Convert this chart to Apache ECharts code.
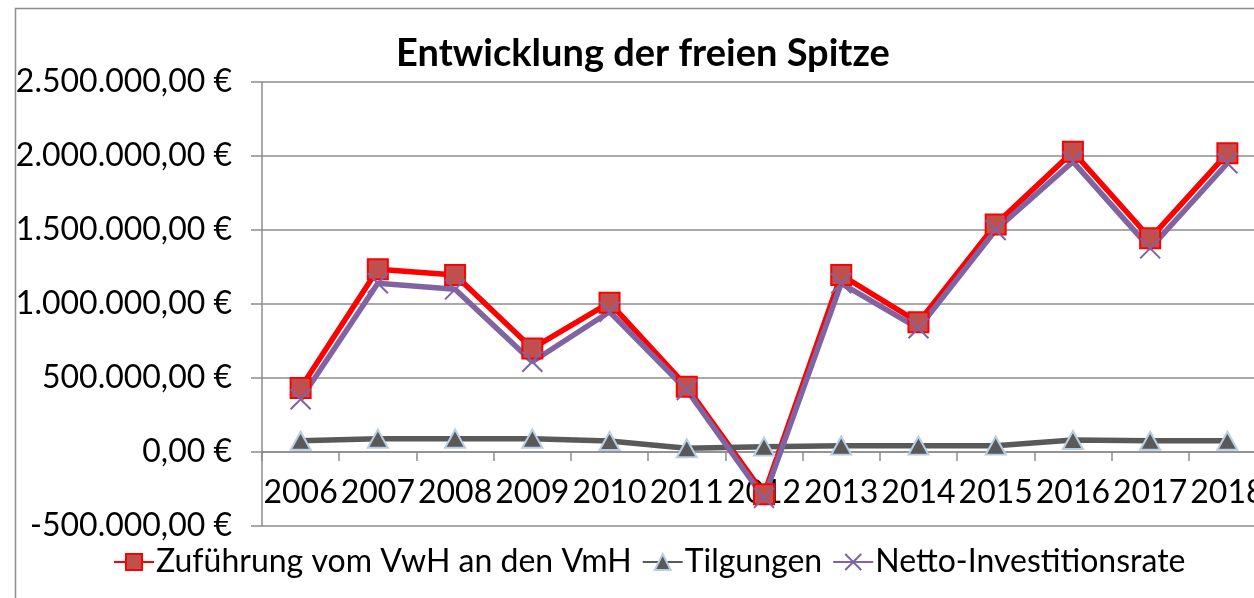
<!DOCTYPE html>
<html>
<head>
<meta charset="utf-8">
<script src="https://cdn.jsdelivr.net/npm/echarts@6/dist/echarts.min.js"></script>
<style>
  html, body { margin: 0; padding: 0; background: #fff; }
  #chart { width: 1254px; height: 598px; }
</style>
</head>
<body>
<div id="chart"></div>
<script>
"use strict";
var years = ["2006", "2007", "2008", "2009", "2010", "2011", "2012", "2013", "2014", "2015", "2016", "2017", "2018"];
var zufuehrung = [432000, 1235000, 1196000, 700000, 1009000, 441000, -285000, 1196000, 876000, 1538000, 2029000, 1444000, 2018000];
var tilgungen = [76000, 90000, 90000, 90000, 74000, 25000, 36000, 43000, 43000, 43000, 81000, 76000, 76000];
var nettoRate = [356000, 1140000, 1099000, 610000, 948000, 419000, -310000, 1140000, 836000, 1500000, 1962000, 1376000, 1951000];

var fontName = "Lato";
var labelSize = 32;

function euro(v) {
    var neg = v < 0;
    var s = Math.abs(Math.round(v)).toString();
    var out = "";
    while (s.length > 3) {
        out = "." + s.slice(-3) + out;
        s = s.slice(0, -3);
    }
    out = s + out;
    return (neg ? "-" : "") + out + ",00 €";
}

var chart = echarts.init(document.getElementById("chart"), null, {renderer: "canvas"});

var options = {
    animation: false,
    textStyle: {fontFamily: fontName, color: "#000"},
    title: {
        text: "Entwicklung der freien Spitze",
        left: 638,
        textAlign: "center",
        top: 30,
        textStyle: {fontFamily: fontName, fontSize: 38, fontWeight: "bold", color: "#000"}
    },
    graphic: [{
        type: "rect",
        shape: {x: 15.5, y: 8.5, width: 1400, height: 800},
        style: {fill: null, stroke: "#8c8c8c", lineWidth: 1.5},
        silent: true,
        z: -10
    }],
    legend: {
        left: 108,
        top: 541,
        itemWidth: 40,
        itemHeight: 20,
        itemGap: 10,
        textStyle: {fontFamily: fontName, fontSize: labelSize, color: "#000", padding: [0, 0, 0, -3]},
        data: ["Zuführung vom VwH an den VmH", "Tilgungen", "Netto-Investitionsrate"]
    },
    grid: {
        left: 262,
        top: 82,
        width: 1004,
        height: 444,
        outerBoundsMode: "none"
    },
    xAxis: {
        type: "category",
        data: years,
        boundaryGap: true,
        position: "bottom",
        offset: -74,
        axisLine: {onZero: false, lineStyle: {color: "#8c8c8c", width: 1.5}},
        axisTick: {show: true, length: 9, inside: false, lineStyle: {color: "#8c8c8c", width: 1.5}},
        axisLabel: {interval: 0, margin: 25, fontFamily: fontName, fontSize: labelSize, color: "#000"},
        splitLine: {show: false}
    },
    yAxis: {
        type: "value",
        min: -500000,
        max: 2500000,
        interval: 500000,
        axisLine: {show: true, lineStyle: {color: "#8c8c8c", width: 1.5}},
        axisTick: {show: true, length: 11, lineStyle: {color: "#8c8c8c", width: 1.5}},
        axisLabel: {margin: 30, fontFamily: fontName, fontSize: labelSize, color: "#000", formatter: euro},
        splitLine: {show: true, lineStyle: {color: "#8c8c8c", width: 1.5}}
    },
    series: [
        {
            name: "Zuführung vom VwH an den VmH",
            type: "line",
            data: zufuehrung,
            symbol: "rect",
            symbolSize: 20,
            lineStyle: {color: "#ff0000", width: 5.5},
            itemStyle: {color: "#c0504d", borderColor: "#ff0000", borderWidth: 2}
        },
        {
            name: "Tilgungen",
            type: "line",
            data: tilgungen,
            symbol: "triangle",
            symbolSize: [20, 18],
            lineStyle: {color: "#595959", width: 5.5},
            itemStyle: {color: "#595959", borderColor: "#b9cde5", borderWidth: 2}
        },
        {
            name: "Netto-Investitionsrate",
            type: "line",
            data: nettoRate,
            symbol: "path://M0,0 L10,10 M10,0 L0,10",
            symbolSize: 20,
            lineStyle: {color: "#8064a2", width: 5.5},
            itemStyle: {color: "#8064a2", borderColor: "#8064a2", borderWidth: 2}
        }
    ]
};

chart.setOption(options);
</script>
</body>
</html>
